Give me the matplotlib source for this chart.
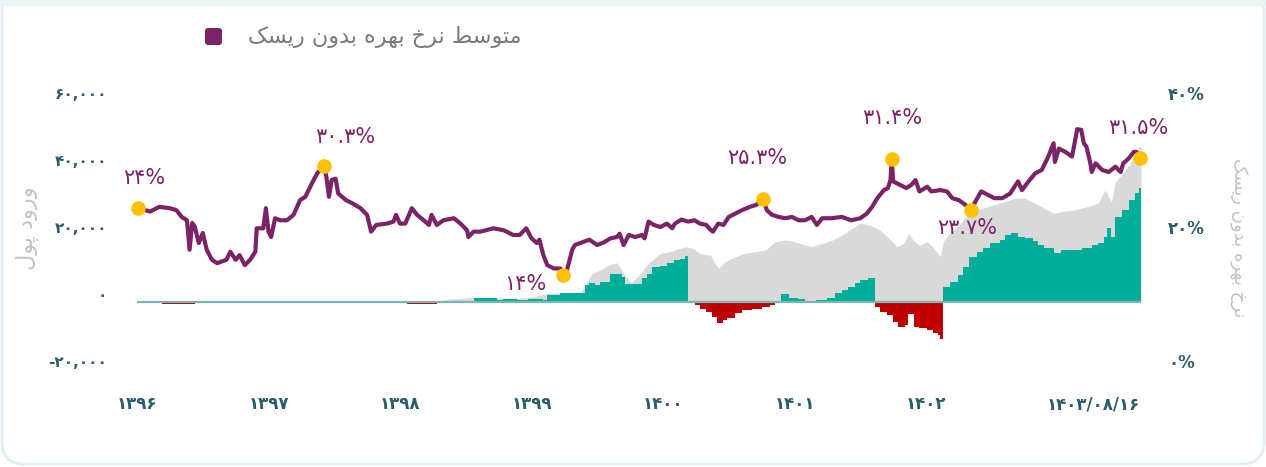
import matplotlib
matplotlib.use('Agg')
import matplotlib.pyplot as plt
import numpy as np
from matplotlib.patches import FancyBboxPatch, Rectangle
from matplotlib.ticker import FuncFormatter
from matplotlib.transforms import IdentityTransform, ScaledTranslation

# risk-free rate (percent), decimal solar-hijri years
rate_years = [
    1396.01, 1396.10, 1396.17, 1396.25, 1396.30, 1396.34, 1396.38, 1396.40, 1396.42, 1396.44,
    1396.47, 1396.50, 1396.53, 1396.57, 1396.61, 1396.68, 1396.71, 1396.75, 1396.78, 1396.82,
    1396.86, 1396.90, 1396.91, 1396.96, 1396.98, 1397.00, 1397.02, 1397.05, 1397.09, 1397.14,
    1397.19, 1397.24, 1397.28, 1397.33, 1397.37, 1397.42, 1397.44, 1397.46, 1397.48, 1397.51,
    1397.53, 1397.56, 1397.59, 1397.64, 1397.70, 1397.75, 1397.78, 1397.82, 1397.90, 1397.95,
    1397.97, 1398.00, 1398.04, 1398.09, 1398.13, 1398.18, 1398.22, 1398.24, 1398.28, 1398.33,
    1398.41, 1398.46, 1398.51, 1398.52, 1398.56, 1398.61, 1398.71, 1398.79, 1398.86, 1398.91,
    1398.96, 1399.00, 1399.04, 1399.06, 1399.09, 1399.12, 1399.17, 1399.22, 1399.24, 1399.27,
    1399.31, 1399.33, 1399.37, 1399.44, 1399.50, 1399.55, 1399.60, 1399.65, 1399.67, 1399.70,
    1399.74, 1399.79, 1399.84, 1399.86, 1399.89, 1399.93, 1399.98, 1400.03, 1400.07, 1400.09,
    1400.14, 1400.19, 1400.24, 1400.28, 1400.33, 1400.36, 1400.38, 1400.42, 1400.46, 1400.50,
    1400.55, 1400.60, 1400.66, 1400.71, 1400.76, 1400.79, 1400.83, 1400.88, 1400.93, 1400.98,
    1401.03, 1401.08, 1401.13, 1401.17, 1401.21, 1401.28, 1401.36, 1401.43, 1401.50, 1401.55,
    1401.59, 1401.63, 1401.68, 1401.71, 1401.73, 1401.74, 1401.75, 1401.80, 1401.85, 1401.89,
    1401.92, 1401.95, 1402.01, 1402.04, 1402.11, 1402.16, 1402.20, 1402.25, 1402.30, 1402.34,
    1402.39, 1402.42, 1402.47, 1402.52, 1402.58, 1402.64, 1402.70, 1402.73, 1402.78, 1402.83,
    1402.88, 1402.93, 1402.97, 1402.98, 1403.01, 1403.06, 1403.11, 1403.13, 1403.15, 1403.18,
    1403.20, 1403.22, 1403.25, 1403.26, 1403.29, 1403.34, 1403.39, 1403.44, 1403.48, 1403.50,
    1403.54, 1403.58, 1403.60, 1403.63,
]
rate_values = [
    24.0, 23.5, 24.2, 24.0, 23.7, 22.7, 22.2, 17.8, 21.8, 21.2,
    18.8, 20.3, 17.8, 16.3, 15.8, 16.3, 17.5, 16.3, 17.0, 15.5,
    16.3, 17.5, 21.0, 21.0, 24.0, 20.5, 19.7, 22.5, 22.2, 22.2,
    23.0, 25.2, 25.7, 27.7, 29.2, 30.3, 28.7, 25.7, 28.2, 28.4,
    26.2, 25.7, 25.2, 24.7, 24.0, 23.0, 20.5, 21.5, 21.7, 22.0,
    23.0, 21.7, 21.7, 24.0, 23.0, 22.2, 21.5, 23.0, 21.5, 22.2,
    22.5, 21.7, 20.7, 19.7, 20.5, 20.5, 21.0, 20.7, 20.0, 20.0,
    21.0, 19.5, 18.8, 19.3, 17.0, 15.5, 15.0, 15.0, 14.0, 14.8,
    17.8, 18.5, 18.8, 19.3, 18.5, 18.9, 19.5, 19.7, 20.2, 18.5,
    20.0, 19.7, 20.0, 19.5, 22.0, 21.5, 21.2, 21.7, 21.0, 21.7,
    22.3, 22.0, 22.2, 21.7, 21.5, 20.8, 20.5, 21.7, 21.5, 22.7,
    23.2, 23.7, 24.2, 24.5, 25.3, 23.7, 23.0, 22.7, 22.5, 22.7,
    22.2, 22.2, 22.7, 21.5, 22.5, 22.5, 22.7, 22.2, 22.5, 23.2,
    24.2, 25.5, 26.7, 27.0, 28.2, 31.4, 28.0, 27.5, 27.0, 27.5,
    28.2, 26.5, 27.2, 26.5, 26.7, 26.5, 25.5, 25.2, 24.5, 23.7,
    25.5, 26.5, 26.0, 25.5, 25.5, 26.2, 28.0, 26.7, 28.0, 29.2,
    29.7, 31.7, 33.7, 30.9, 32.9, 32.4, 31.7, 33.7, 35.8, 35.7,
    33.7, 33.2, 30.7, 29.4, 30.7, 29.7, 29.4, 30.2, 29.4, 30.7,
    31.4, 32.4, 32.4, 31.5,
]

# highlighted points on the rate line
mark_years = [1396.01, 1397.42, 1399.24, 1400.76, 1401.74, 1402.34, 1403.63]
mark_rates = [24.0, 30.3, 14.0, 25.3, 31.4, 23.7, 31.5]

# net money inflow (step series)
flow_years = [
    1396.00, 1396.19, 1396.44, 1397.91, 1397.95, 1398.05, 1398.28, 1398.36, 1398.56, 1398.74,
    1398.78, 1398.89, 1398.97, 1399.09, 1399.12, 1399.22, 1399.41, 1399.44, 1399.48, 1399.52,
    1399.60, 1399.66, 1399.69, 1399.71, 1399.80, 1399.84, 1399.88, 1399.92, 1399.98, 1400.03,
    1400.08, 1400.13, 1400.17, 1400.19, 1400.24, 1400.28, 1400.33, 1400.37, 1400.41, 1400.46,
    1400.49, 1400.55, 1400.60, 1400.68, 1400.75, 1400.81, 1400.85, 1400.90, 1400.96, 1401.03,
    1401.08, 1401.13, 1401.16, 1401.25, 1401.31, 1401.36, 1401.41, 1401.46, 1401.50, 1401.56,
    1401.61, 1401.65, 1401.70, 1401.75, 1401.79, 1401.84, 1401.86, 1401.91, 1401.95, 1402.01,
    1402.05, 1402.09, 1402.11, 1402.13, 1402.18, 1402.24, 1402.28, 1402.33, 1402.39, 1402.43,
    1402.49, 1402.56, 1402.60, 1402.65, 1402.70, 1402.75, 1402.81, 1402.85, 1402.90, 1402.97,
    1403.03, 1403.11, 1403.19, 1403.26, 1403.31, 1403.35, 1403.38, 1403.41, 1403.44, 1403.49,
    1403.54, 1403.59, 1403.62, 1403.635,
]
flow_values = [
    0, -500, 0, -400, 0, -500, 0, 300, 1100, 600,
    1000, 600, 1000, 700, 2100, 2600, 5100, 5600, 5100, 6100,
    8400, 8400, 7600, 5400, 5400, 7100, 8400, 10500, 10700, 11700,
    12500, 12800, 13700, -400, -1000, -2000, -2900, -4400, -6400, -5500,
    -4900, -3400, -2400, -2200, -1600, -900, 300, 2400, 1300, 800,
    300, -300, 600, 1300, 2800, 3600, 4600, 5600, 6600, 7100,
    -1400, -2900, -3900, -5900, -7400, -7000, -3600, -7400, -7900, -8400,
    -9200, -9900, -11100, 4600, 6100, 8100, 10500, 13500, 15000, 16000,
    17500, 18500, 20000, 20500, 19500, 19000, 18300, 17000, 16000, 14500,
    15500, 15500, 16000, 17000, 17500, 19500, 22000, 19500, 25500, 27500,
    30500, 32500, 34000, 34000,
]

# grey background area
grey_years = [
    1396.00, 1398.25, 1398.36, 1398.56, 1398.76, 1398.97, 1399.12, 1399.22, 1399.37, 1399.41,
    1399.46, 1399.52, 1399.60, 1399.65, 1399.70, 1399.76, 1399.83, 1399.90, 1399.98, 1400.05,
    1400.13, 1400.18, 1400.23, 1400.28, 1400.36, 1400.42, 1400.47, 1400.55, 1400.62, 1400.70,
    1400.78, 1400.85, 1400.93, 1401.00, 1401.08, 1401.13, 1401.21, 1401.29, 1401.36, 1401.44,
    1401.50, 1401.57, 1401.65, 1401.73, 1401.78, 1401.83, 1401.87, 1401.90, 1401.95, 1402.01,
    1402.05, 1402.11, 1402.13, 1402.18, 1402.26, 1402.33, 1402.43, 1402.56, 1402.60, 1402.68,
    1402.75, 1402.83, 1402.90, 1402.97, 1403.03, 1403.13, 1403.23, 1403.31, 1403.36, 1403.41,
    1403.44, 1403.49, 1403.57, 1403.62, 1403.635,
]
grey_values = [
    0, 0, 800, 1400, 1000, 1300, 2500, 2800, 2600, 5100,
    8600, 9500, 11300, 11700, 8600, 5600, 8600, 12000, 14500, 15000,
    16000, 16500, 16000, 14500, 14000, 10000, 12000, 13500, 14500, 15000,
    15500, 18000, 18500, 18000, 17000, 16500, 17500, 18500, 20000, 22000,
    23500, 23000, 21500, 18500, 16500, 17500, 20500, 18500, 17000, 18000,
    16500, 13500, 18000, 20500, 23500, 26500, 28000, 29500, 30000, 31000,
    31000, 29500, 28000, 26500, 27000, 27500, 28500, 29500, 33400, 30000,
    36000, 38000, 42400, 46400, 46400,
]

year_ticks = [1396, 1397, 1398, 1399, 1400, 1401, 1402, 1403.63]
year_labels = ['1396', '1397', '1398', '1399', '1400', '1401', '1402', '1403/08/16']

PURPLE = '#7b2367'
GOLD = '#ffc000'
TEAL = '#00ad9b'
RED = '#c00000'
GREY = '#d9d9d9'
TICK = '#2a5d6c'

FA = str.maketrans('0123456789', '۰۱۲۳۴۵۶۷۸۹')


def fa(s):
    return str(s).translate(FA)


def rtl(s):
    # text is already in presentation forms; matplotlib lays out left to right
    return s[::-1]


LEGEND_LABEL = rtl('\ufee3\ufe98\ufeee\ufeb3\ufec2 \ufee7\ufeae\ufea5 \ufe91\ufeec\ufeae\ufee9 '
                   '\ufe91\ufeaa\ufeed\ufee5 \ufead\ufbfe\ufeb4\ufb8f')
LEFT_TITLE = rtl('\ufeed\ufead\ufeed\ufea9 \ufb58\ufeee\ufedd')
RIGHT_TITLE = rtl('\ufee7\ufeae\ufea5 \ufe91\ufeec\ufeae\ufee9 \ufe91\ufeaa\ufeed\ufee5 '
                  '\ufead\ufbfe\ufeb4\ufb8f')

label_offsets = [(6, 30), (22, 29), (-38, -9), (-6, 41), (0, 41), (-3, -18), (-2, 30)]

plt.rcParams['font.family'] = ['DejaVu Sans']

W, H = 1266, 467
fig = plt.figure(figsize=(W / 100, H / 100), dpi=100)

# card frame
fig.add_artist(FancyBboxPatch((2, 3), W - 4, H + 40, boxstyle='round,pad=0,rounding_size=22',
                              transform=IdentityTransform(), facecolor='white',
                              edgecolor='#dfeff0', lw=2, zorder=-5))
fig.add_artist(Rectangle((0, H - 6), W, 6, transform=IdentityTransform(),
                         facecolor='#e6f4f4', edgecolor='none', zorder=-4))

ax = fig.add_axes([120 / W, 98 / H, 1030 / W, 268 / H])
ax.set_xlim(1396 + (120 - 137) / 131.5, 1396 + (1150 - 137) / 131.5)
ax.set_ylim(-20000, 60000)

flow = np.array(flow_values, dtype=float)
ax.fill_between(grey_years, 0, grey_values, color=GREY, lw=0, zorder=1)
ax.fill_between(flow_years, 0, np.clip(flow, 0, None), step='post', color=TEAL, lw=0, zorder=2)
ax.fill_between(flow_years, 0, np.clip(flow, None, 0), step='post', color=RED, lw=0, zorder=2)
ax.hlines(0, flow_years[0], flow_years[-1], color='#78b8b0', lw=1.6, zorder=3)

ax2 = ax.twinx()
ax2.set_ylim(0, 40)
ax2.plot(rate_years, rate_values, color=PURPLE, lw=3, solid_joinstyle='round', zorder=3)
ax2.plot(mark_years, mark_rates, 'o', color=GOLD, ms=10.5, mec='none', zorder=4, clip_on=False)
for yr, rt, off in zip(mark_years, mark_rates, label_offsets):
    ax2.annotate(fa(f'{rt:g}') + '%', (yr, rt), xytext=off, textcoords='offset pixels',
                 ha='center', va='center', color=PURPLE, fontsize=15)

for a in (ax, ax2):
    for s in a.spines.values():
        s.set_visible(False)
    a.tick_params(length=0)

ax.set_yticks([-20000, 0, 20000, 40000, 60000])
ax.yaxis.set_major_formatter(FuncFormatter(lambda v, p: fa(f'{int(v):,}')))
ax.tick_params(axis='y', labelsize=11, labelcolor=TICK, pad=9)
ax2.set_yticks([0, 20, 40])
ax2.yaxis.set_major_formatter(FuncFormatter(lambda v, p: fa(f'{int(v)}%')))
ax2.tick_params(axis='y', labelsize=12, labelcolor=TICK, pad=13)

ax.set_xticks(year_ticks)
ax.set_xticklabels([fa(t) for t in year_labels])
ax.tick_params(axis='x', labelsize=12, labelcolor=TICK, pad=19)
ax.get_xticklabels()[-1].set_ha('right')

shift = ScaledTranslation(0, 0.08, fig.dpi_scale_trans)
for lbl in ax.get_yticklabels() + ax2.get_yticklabels():
    lbl.set_transform(lbl.get_transform() + shift)
for lbl in ax.get_yticklabels() + ax2.get_yticklabels() + ax.get_xticklabels():
    lbl.set_fontweight('bold')

fig.text(27 / W, 1 - 228 / H, LEFT_TITLE, rotation=90, ha='center', va='center',
         color='#c2c2c2', fontsize=16)
fig.text(1238 / W, 1 - 238 / H, RIGHT_TITLE, rotation=-90, ha='center', va='center',
         color='#c2c2c2', fontsize=13)

# legend
fig.add_artist(FancyBboxPatch((205, H - 45), 17, 17, boxstyle='round,pad=0,rounding_size=3',
                              transform=IdentityTransform(), facecolor=PURPLE, edgecolor='none'))
fig.text(248 / W, 1 - 37 / H, LEGEND_LABEL, ha='left', va='center', color='#7a7a7a', fontsize=16)

fig.savefig('out.png', dpi=100)
